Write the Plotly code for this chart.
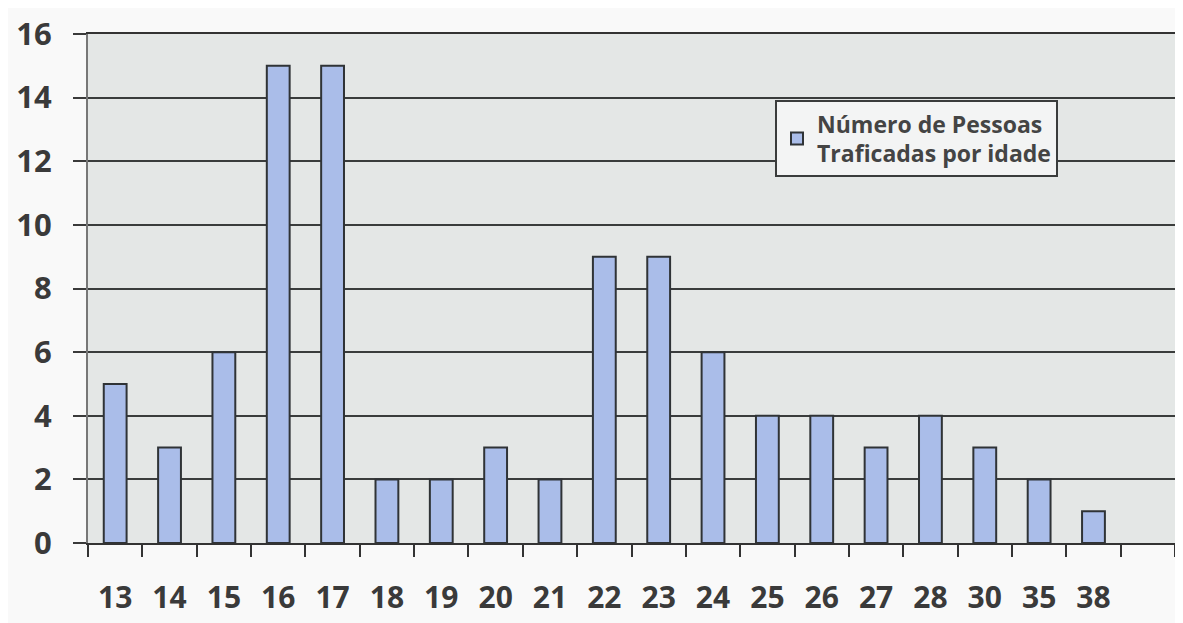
import plotly.graph_objects as go

# Ages and number of trafficked people per age
ages = ["13", "14", "15", "16", "17", "18", "19", "20", "21", "22",
        "23", "24", "25", "26", "27", "28", "30", "35", "38"]
pessoas = [5, 3, 6, 15, 15, 2, 2, 3, 2, 9, 9, 6, 4, 4, 3, 4, 3, 2, 1]
y_ticks = [0, 2, 4, 6, 8, 10, 12, 14, 16]

positions = list(range(len(ages)))

fig = go.Figure()

fig.add_trace(go.Bar(
    x=positions,
    y=pessoas,
    name="Número de Pessoas<br>Traficadas por idade",
    marker=dict(color="#aabde9", line=dict(color="#2f3336", width=2)),
    width=0.42,
))

fig.update_layout(
    width=1183,
    height=623,
    margin=dict(l=80, r=16, t=26, b=88),
    paper_bgcolor="#f9f9f9",
    plot_bgcolor="#e4e7e6",
    font=dict(family="Open Sans, sans-serif", color="#3a3a3a"),
    showlegend=True,
    legend=dict(
        x=0.632, y=0.87, xanchor="left", yanchor="top",
        bgcolor="#f3f4f4",
        bordercolor="#3a3c3c",
        borderwidth=2,
        font=dict(size=23, color="#444444", weight="bold"),
        itemsizing="constant",
    ),
)

fig.update_xaxes(
    range=[-0.5, 19.5],
    tickvals=positions,
    ticktext=ages,
    ticks="",
    tickfont=dict(size=30, color="#3a3a3a", weight="bold"),
    ticklabelstandoff=27,
    minor=dict(ticks="outside", tick0=-0.5, dtick=1, ticklen=12,
               tickwidth=2, tickcolor="#333333", showgrid=False),
    showline=True, linecolor="#333333", linewidth=2, mirror=True,
    showgrid=False, zeroline=False,
    automargin=False,
)

fig.update_yaxes(
    range=[0, 16],
    tickvals=y_ticks,
    ticks="outside", ticklen=13, tickwidth=2, tickcolor="#3a3a3a",
    tickfont=dict(size=31, color="#3a3a3a", weight="bold"),
    ticklabelstandoff=15,
    ticklabeloverflow="allow",
    showgrid=True, gridcolor="#3a3c3c", gridwidth=2,
    showline=True, linecolor="#777777", linewidth=2,
    zeroline=False,
    automargin=False,
)

fig.write_html("out.html")
